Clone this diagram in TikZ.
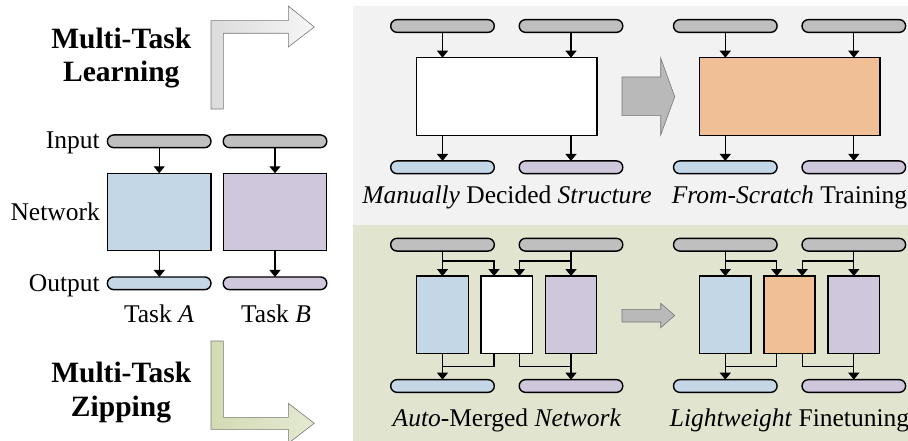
\documentclass[tikz,border=0pt]{standalone}
\usepackage{fontspec}
\setmainfont{Liberation Serif}
\usetikzlibrary{arrows.meta,calc}
\definecolor{panelgray}{HTML}{F2F2F2}
\definecolor{panelgreen}{HTML}{E1E5CF}
\definecolor{bargray}{HTML}{BFBFBF}
\definecolor{blueF}{HTML}{C4D7E7}
\definecolor{purpleF}{HTML}{CFC7DC}
\definecolor{orangeF}{HTML}{F1BF95}
\definecolor{arrowgray}{HTML}{B9B9B9}
\definecolor{edgegray}{HTML}{777777}
\definecolor{hgrayL}{HTML}{DCDCDC}
\definecolor{hgrayR}{HTML}{F6F6F6}
\definecolor{hgreenL}{HTML}{D3DBB3}
\definecolor{hgreenR}{HTML}{E4E9D1}
\begin{document}
\begin{tikzpicture}[x=1pt,y=-1pt,
  bar/.style={draw=black, line width=1.4pt, rectangle, rounded corners=6.3pt,
    minimum height=12.7pt, minimum width=103.6pt, inner sep=0pt, outer sep=0pt},
  netbox/.style={draw=black, line width=1.4pt, rectangle, inner sep=0pt, outer sep=0pt},
  conn/.style={line width=1.3pt, -{Triangle[length=7pt,width=11pt]}},
  wire/.style={line width=1.3pt},
  lab/.style={font=\fontsize{25.5}{30}\selectfont, inner sep=0pt},
  ttl/.style={font=\fontsize{29.5}{34}\selectfont\bfseries, inner sep=0pt},
  fatarrow/.style={fill=arrowgray, draw=edgegray, line width=0.6pt}]
\useasboundingbox (0,0) rectangle (908,441);
% panels
\fill[panelgray] (353,6) rectangle (908,225);
\fill[panelgreen] (353,225) rectangle (908,441);
% hollow bent arrows
\shadedraw[left color=hgrayL, right color=hgrayR, draw=edgegray, line width=0.6pt]
  (211,109) -- (211,20.7) -- (288.3,20.7) -- (288.3,6) -- (314.3,27) -- (288.3,47)
  -- (288.3,33.3) -- (223.3,33.3) -- (223.3,109) -- cycle;
\shadedraw[left color=hgreenL, right color=hgreenR, draw=edgegray, line width=0.6pt]
  (211,341) -- (223.3,341) -- (223.3,417.3) -- (288.3,417.3) -- (288.3,403.3)
  -- (314.3,423.3) -- (288.3,443.3) -- (288.3,429.3) -- (211,429.3) -- cycle;
% titles
\node[ttl, anchor=base] (t1a) at (121.2,48.3) {Multi-Task};
\node[ttl, anchor=base] (t1b) at (121.3,81.7) {Learning};
\node[ttl, anchor=base] (t2a) at (121.2,382.7) {Multi-Task};
\node[ttl, anchor=base] (t2b) at (121,416) {Zipping};
% left single-task networks
\node[bar, fill=bargray] (inA) at (159.2,141.3) {};
\node[bar, fill=bargray] (inB) at (275,141.3) {};
\node[netbox, fill=blueF, minimum width=103.3pt, minimum height=77.4pt] (netA) at (159.3,212) {};
\node[netbox, fill=purpleF, minimum width=103.3pt, minimum height=77.4pt] (netB) at (275,212) {};
\node[bar, fill=blueF] (outA) at (159.2,283.3) {};
\node[bar, fill=purpleF] (outB) at (275,283.3) {};
\draw[conn] (inA.south) -- (inA.south |- netA.north);
\draw[conn] (inB.south) -- (inB.south |- netB.north);
\draw[conn] (netA.south) -- (netA.south |- outA.north);
\draw[conn] (netB.south) -- (netB.south |- outB.north);
\node[lab, anchor=base east] (lin) at (100,148.5) {Input};
\node[lab, anchor=base east] (lnet) at (100,220) {Network};
\node[lab, anchor=base east] (lout) at (100,291) {Output};
\node[lab, anchor=base] (taskA) at (159,322.7) {Task \textit{A}};
\node[lab, anchor=base] (taskB) at (276,322.7) {Task \textit{B}};
% fat arrows
\draw[fatarrow] (622,77) -- (660.7,77) -- (660.7,58) -- (674.7,96.7) -- (660.7,135)
  -- (660.7,115.7) -- (622,115.7) -- cycle;
\draw[fatarrow] (622,309.3) -- (660.7,309.3) -- (660.7,303.3) -- (674.7,315.5)
  -- (660.7,327.7) -- (660.7,322) -- (622,322) -- cycle;
% panels content
\foreach \s/\g/\c in {0/L/white,282.8/R/orangeF}{
  % top
  \node[bar, fill=bargray] (ti1\g) at ({442.5+\s},26) {};
  \node[bar, fill=bargray] (ti2\g) at ({571+\s},26) {};
  \node[netbox, fill=\c, minimum width=180.3pt, minimum height=78pt] (tbox\g) at ({506.9+\s},96.7) {};
  \node[bar, fill=blueF] (to1\g) at ({442.5+\s},167.3) {};
  \node[bar, fill=purpleF] (to2\g) at ({571+\s},167.3) {};
  \draw[conn] (ti1\g.south) -- (ti1\g.south |- tbox\g.north);
  \draw[conn] (ti2\g.south) -- (ti2\g.south |- tbox\g.north);
  \draw[conn] (to1\g.north |- tbox\g.south) -- (to1\g.north);
  \draw[conn] (to2\g.north |- tbox\g.south) -- (to2\g.north);
  % bottom
  \node[bar, fill=bargray] (bi1\g) at ({442.5+\s},244.7) {};
  \node[bar, fill=bargray] (bi2\g) at ({571+\s},244.7) {};
  \node[netbox, fill=blueF, minimum width=51.6pt, minimum height=77.3pt] (bb1\g) at ({442.5+\s},314.7) {};
  \node[netbox, fill=\c, minimum width=51.3pt, minimum height=77.3pt] (bm\g) at ({506.7+\s},314.7) {};
  \node[netbox, fill=purpleF, minimum width=51.3pt, minimum height=77.3pt] (bb2\g) at ({571+\s},314.7) {};
  \node[bar, fill=blueF] (bo1\g) at ({442.5+\s},386) {};
  \node[bar, fill=purpleF] (bo2\g) at ({571+\s},386) {};
  \coordinate (j1\g) at ({442.5+\s},261);
  \coordinate (j2\g) at ({571+\s},261);
  \coordinate (m1\g) at ({442.5+\s},366.7);
  \coordinate (m2\g) at ({571+\s},366.7);
  \draw[conn] (bi1\g.south) -- (bi1\g.south |- bb1\g.north);
  \draw[conn] (bi2\g.south) -- (bi2\g.south |- bb2\g.north);
  \draw[conn] (j1\g) -| ([xshift=-12.7pt]bm\g.north);
  \draw[conn] (j2\g) -| ([xshift=12.7pt]bm\g.north);
  \draw[conn] (bb1\g.south) -- (bb1\g.south |- bo1\g.north);
  \draw[conn] (bb2\g.south) -- (bb2\g.south |- bo2\g.north);
  \draw[wire] ([xshift=-12.7pt]bm\g.south) |- (m1\g);
  \draw[wire] ([xshift=12.7pt]bm\g.south) |- (m2\g);
}
% captions
\node[lab, anchor=base] (capTL) at (507,204) {\textit{Manually} Decided \textit{Structure}};
\node[lab, anchor=base] (capTR) at (789.5,204) {\textit{From-Scratch} Training};
\node[lab, anchor=base] (capBL) at (507,426) {\textit{Auto}-Merged \textit{Network}};
\node[lab, anchor=base] (capBR) at (789.5,426) {\textit{Lightweight} Finetuning};
\end{tikzpicture}
\end{document}
